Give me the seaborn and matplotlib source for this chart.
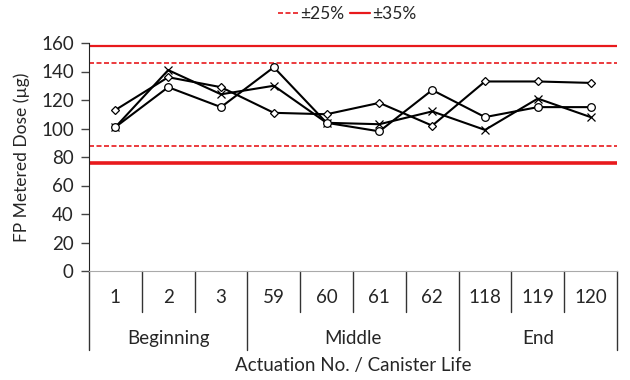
import pandas as pd
import seaborn as sns
import matplotlib.pyplot as plt
from matplotlib.lines import Line2D

# Actuation numbers grouped by canister life stage
actuations = ['1', '2', '3', '59', '60', '61', '62', '118', '119', '120']
stages = ['Beginning', 'Middle', 'End']
stage_sizes = [3, 4, 3]

# Metered dose (ug) for the three canisters
dose_diamond = [113, 136, 129, 111, 110, 118, 102, 133, 133, 132]
dose_cross = [101, 141, 124, 130, 104, 103, 112, 99, 121, 108]
dose_circle = [101, 129, 115, 143, 104, 98, 127, 108, 115, 115]

# Limits around the target dose
target = 117
limit_25 = 0.25
limit_35 = 0.35

series = [('A', dose_diamond, 'D', 4.5), ('B', dose_cross, 'x', 6), ('C', dose_circle, 'o', 5.5)]
rows = []
for name, vals, _, _ in series:
    for i, v in enumerate(vals):
        rows.append({'pos': i, 'dose': v, 'canister': name})
df = pd.DataFrame(rows)

sns.set_style('white')
plt.rcParams['font.family'] = ['Lato', 'DejaVu Sans']
fs = 13.5

fig = plt.figure(figsize=(6.3, 3.8), dpi=100)
ax = fig.add_axes([89 / 630, 109 / 380, 528 / 630, 228 / 380])

# limit lines
ax.axhline(target * (1 + limit_35), color='#e8191c', lw=1.6, zorder=1)
ax.axhline(target * (1 - limit_35), color='#e8191c', lw=2.6, zorder=1)
ax.axhline(target * (1 + limit_25), color='#e8191c', lw=1.2, ls=(0, (3, 1.5)), zorder=1)
ax.axhline(target * (1 - limit_25), color='#e8191c', lw=1.2, ls=(0, (3, 1.5)), zorder=1)

for name, _, mk, ms in series:
    sns.lineplot(data=df[df['canister'] == name], x='pos', y='dose',
                 marker=mk, color='black', lw=1.5, markersize=ms,
                 markerfacecolor='white', markeredgecolor='black',
                 markeredgewidth=0.9, ax=ax, zorder=3)

ax.set_xlim(-0.5, len(actuations) - 0.5)
ax.set_ylim(0, 160)
ax.set_yticks(range(0, 161, 20))
ax.tick_params(axis='y', direction='out', length=6, width=1, color='#444444',
               labelsize=fs, pad=5, left=True)
ax.set_xticks([])
ax.set_xlabel('')
ax.set_ylabel('FP Metered Dose (µg)', fontsize=12.5, labelpad=8)

for s in ['top', 'right']:
    ax.spines[s].set_visible(False)
ax.spines['left'].set_color('#222222')
ax.spines['bottom'].set_color('#aaaaaa')

# category axis: actuation numbers and stage groups
trans = ax.get_xaxis_transform()
for i, lab in enumerate(actuations):
    ax.text(i, -0.115, lab, transform=trans, ha='center', va='center', fontsize=fs)
bounds = [-0.5]
for n in stage_sizes:
    bounds.append(bounds[-1] + n)
for i in range(len(actuations) + 1):
    x = i - 0.5
    y0 = -0.345 if x in bounds else -0.18
    ax.plot([x, x], [0, y0], transform=trans, color='#333333', lw=1, clip_on=False)
for k, st in enumerate(stages):
    ax.text((bounds[k] + bounds[k + 1]) / 2, -0.295, st, transform=trans,
            ha='center', va='center', fontsize=fs)
ax.text(0.5, -0.415, 'Actuation No. / Canister Life', transform=ax.transAxes,
        ha='center', va='center', fontsize=fs)

handles = [Line2D([], [], color='#e8191c', lw=1.2, ls=(0, (3, 1.5))),
           Line2D([], [], color='#e8191c', lw=1.6)]
fig.legend(handles, ['±25%', '±35%'], loc='center', bbox_to_anchor=(347 / 630, 1 - 14 / 380),
           ncol=2, frameon=False, fontsize=12.5, handlelength=1.2, handletextpad=0.1,
           columnspacing=0.3)

fig.savefig('out.png', dpi=100)
